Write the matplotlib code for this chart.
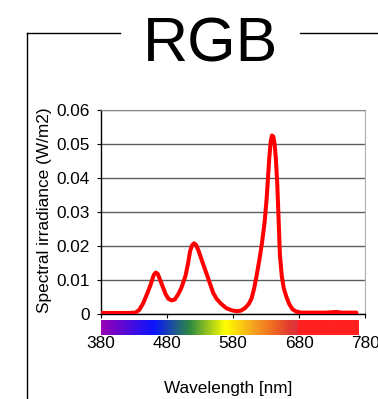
import numpy as np
import matplotlib
matplotlib.use("Agg")
import matplotlib.pyplot as plt
from matplotlib.colors import LinearSegmentedColormap
from matplotlib.lines import Line2D

plt.rcParams['font.family'] = ['Liberation Sans', 'DejaVu Sans']

# ---- data ----
wavelength = [380, 400, 420, 432, 438, 444, 450, 455, 460, 463, 466, 470, 474, 478,
              482, 487, 492, 497, 502, 508, 512, 515, 518, 521, 524, 528, 532, 536,
              540, 545, 550, 555, 562, 570, 578, 586, 592, 598, 604, 608, 612, 616,
              620, 624, 628, 631, 633, 635, 637, 639, 641, 643, 645, 647, 649, 651,
              654, 657, 661, 665, 670, 676, 684, 700, 720, 737, 745, 760, 767]
irradiance = [0.0003, 0.0003, 0.0003, 0.0004, 0.0012, 0.0032, 0.0060, 0.0085, 0.0115,
              0.0122, 0.0118, 0.0098, 0.0078, 0.0058, 0.0045, 0.0040, 0.0043, 0.0058,
              0.0078, 0.0112, 0.0150, 0.0185, 0.0202, 0.0208, 0.0203, 0.0185, 0.0162,
              0.0140, 0.0118, 0.0090, 0.0062, 0.0045, 0.0030, 0.0017, 0.0011, 0.0008,
              0.0010, 0.0017, 0.0030, 0.0045, 0.0075, 0.0115, 0.0160, 0.0210, 0.0272,
              0.0340, 0.0400, 0.0460, 0.0505, 0.0525, 0.0522, 0.0500, 0.0455, 0.0385,
              0.0285, 0.0175, 0.0110, 0.0075, 0.0050, 0.0030, 0.0014, 0.0007, 0.0004,
              0.0004, 0.0004, 0.0006, 0.0004, 0.0004, 0.0004]

x_ticks = [380, 480, 580, 680, 780]
y_ticks = [0, 0.01, 0.02, 0.03, 0.04, 0.05, 0.06]
y_tick_labels = ['0', '0.01', '0.02', '0.03', '0.04', '0.05', '0.06']

# spectrum bar colour stops (nm, colour)
spectrum_nm = [380, 460, 515, 568, 612, 640, 666, 677, 677.5, 770]
spectrum_colors = ['#9a00b4', '#0a14ff', '#2e8b40', '#ffff00', '#f5a020', '#ef6a22',
                   '#e03a30', '#e03040', '#ff2020', '#ff2020']

W, H = 378, 399
fig = plt.figure(figsize=(W / 100, H / 100), dpi=100)

def fx(px):
    return px / W

def fy(py):
    return 1 - py / H

ax = fig.add_axes([fx(101), fy(314), fx(365) - fx(101), fy(110) - fy(314)])
ax.plot(wavelength, irradiance, color='#ff0000', lw=2.9, solid_joinstyle='round',
        solid_capstyle='round', zorder=3)
ax.set_xlim(380, 780)
ax.set_ylim(0, 0.06)
ax.set_yticks(y_ticks)
ax.set_yticklabels(y_tick_labels)
ax.set_xticks(x_ticks)
ax.set_xticklabels([str(t) for t in x_ticks])
ax.tick_params(axis='y', direction='out', length=3, width=0.8, pad=5, labelsize=12.4,
               colors='black')
ax.tick_params(axis='x', direction='out', length=3, width=0.8, pad=12.5, labelsize=12.4,
               colors='black')
ax.yaxis.grid(True, color='#5e5e5e', lw=1.0)
ax.set_axisbelow(True)
for s in ['left', 'bottom']:
    ax.spines[s].set_color('black')
    ax.spines[s].set_linewidth(1.0)
ax.spines['top'].set_color('#8a8a8a')
ax.spines['right'].set_color('#b0b0b0')

# spectrum bar
positions = [(v - spectrum_nm[0]) / (spectrum_nm[-1] - spectrum_nm[0]) for v in spectrum_nm]
cmap = LinearSegmentedColormap.from_list('spec', list(zip(positions, spectrum_colors)), N=1024)
cax = fig.add_axes([fx(101), fy(335.5), fx(365) - fx(101), fy(320) - fy(335.5)])
grad = np.linspace(0, 1, 1024).reshape(1, -1)
cax.imshow(grad, extent=[spectrum_nm[0], spectrum_nm[-1], 0, 1], aspect='auto',
           cmap=cmap, interpolation='bilinear')
cax.set_xlim(380, 780)
cax.set_ylim(0, 1)
cax.axis('off')

# labels
fig.text(fx(45), fy(210), 'Spectral irradiance (W/m2)', rotation=90, ha='center',
         va='center', fontsize=12.4)
fig.text(fx(228), fy(388), 'Wavelength [nm]', ha='center', va='center', fontsize=12.3)
fig.text(fx(210), fy(61), 'RGB', ha='center', va='baseline', fontsize=45)

# chart frame
lw = 1.0
fig.add_artist(Line2D([fx(27), fx(27)], [fy(33), fy(405)], color='black', lw=lw))
fig.add_artist(Line2D([fx(27), fx(120)], [fy(33), fy(33)], color='black', lw=lw))
fig.add_artist(Line2D([fx(300), fx(385)], [fy(33), fy(33)], color='black', lw=lw))

fig.savefig('out.png', dpi=100)
